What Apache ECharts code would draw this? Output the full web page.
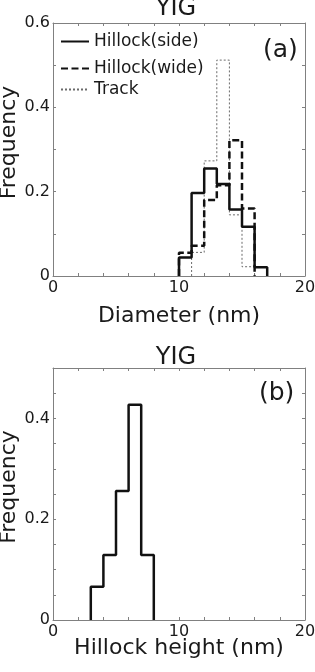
<!DOCTYPE html>
<html>
<head>
<meta charset="utf-8">
<script src="https://cdn.jsdelivr.net/npm/echarts@6/dist/echarts.min.js"></script>
<style>
html,body{margin:0;padding:0;background:#fff;}
#c{width:315px;height:672px;}
</style>
</head>
<body>
<div id="c"></div>
<script>
// ---- Data (a): diameter histograms, bin width 1 nm ----
var sideStarts = [10, 11, 12, 13, 14, 15, 16];
var sideFreq   = [0.044, 0.197, 0.255, 0.218, 0.158, 0.117, 0.021];
var wideStarts = [10, 11, 12, 13, 14, 15];
var wideFreq   = [0.055, 0.072, 0.180, 0.215, 0.322, 0.160];
var trackStarts = [11, 12, 13, 14, 15];
var trackFreq   = [0.056, 0.273, 0.512, 0.145, 0.022];
// ---- Data (b): hillock height histogram ----
var heightStarts = [3, 4, 5, 6, 7];
var heightFreq   = [0.066, 0.129, 0.256, 0.427, 0.129];
var binWidth = 1;
// ---- Tick labels ----
var xTickLabels = [0, 10, 20];
var yTickLabelsA = [0, 0.2, 0.4, 0.6];
var yTickLabelsB = [0, 0.2, 0.4];
var seriesNames = ['Hillock(side)', 'Hillock(wide)', 'Track'];

function stairs(starts, vals) {
  var pts = [[starts[0], 0]];
  for (var i = 0; i < starts.length; i++) pts.push([starts[i], vals[i]]);
  pts.push([starts[starts.length - 1] + binWidth, 0]);
  return pts;
}
function fmt(list) {
  return function (v) {
    for (var i = 0; i < list.length; i++) if (Math.abs(v - list[i]) < 1e-6) return String(list[i]);
    return '';
  };
}

var FONT = 'DejaVu Sans';
var AX = '#808080';
var TXT = '#1a1a1a';

function xAx(gi, show) {
  return {
    type: 'value', gridIndex: gi, min: 0, max: 20, interval: 2,
    position: show ? 'bottom' : 'top',
    axisLine: { show: true, onZero: false, lineStyle: { color: AX, width: 1 } },
    axisTick: { show: true, inside: true, length: 3, lineStyle: { color: AX } },
    axisLabel: { show: show, formatter: fmt(xTickLabels), color: TXT, fontSize: 16, fontFamily: FONT, margin: 4 },
    splitLine: { show: false },
    name: show ? (gi === 0 ? 'Diameter (nm)' : 'Hillock height (nm)') : '',
    nameLocation: 'middle', nameGap: gi === 0 ? 29 : 17, nameMoveOverlap: false,
    nameTextStyle: { color: TXT, fontSize: 22, fontFamily: FONT }
  };
}
function yAx(gi, show, max, labels) {
  return {
    type: 'value', gridIndex: gi, min: 0, max: max, interval: gi === 0 ? 0.1 : 0.05,
    position: show ? 'left' : 'right',
    axisLine: { show: true, onZero: false, lineStyle: { color: AX, width: 1 } },
    axisTick: { show: true, inside: true, length: 3, lineStyle: { color: AX } },
    axisLabel: { show: show, formatter: fmt(labels), color: TXT, fontSize: 16, fontFamily: FONT, margin: 3 },
    splitLine: { show: false },
    name: show ? 'Frequency' : '',
    nameLocation: 'middle', nameGap: 33, nameRotate: 90, nameMoveOverlap: false,
    nameTextStyle: { color: TXT, fontSize: 22, fontFamily: FONT, padding: [0, 0, 0, 14] }
  };
}
function leg(name, top) {
  return { data: [name], left: 60, top: top, padding: 0, itemWidth: 28, itemHeight: 14, itemGap: 0,
    itemStyle: { opacity: 0 },
    textStyle: { color: TXT, fontSize: 17, fontFamily: FONT }, selectedMode: false };
}

var chart = echarts.init(document.getElementById('c'), null, { renderer: 'canvas' });
chart.setOption({
  backgroundColor: '#fff',
  animation: false,
  title: [
    { text: 'YIG', left: 171, textAlign: 'center', top: -8, textStyle: { color: TXT, fontSize: 24, fontWeight: 'normal', fontFamily: FONT } },
    { text: 'YIG', left: 171, textAlign: 'center', top: 341, textStyle: { color: TXT, fontSize: 24, fontWeight: 'normal', fontFamily: FONT } },
    { text: '(a)', left: 258, top: 33, textStyle: { color: TXT, fontSize: 25, fontWeight: 'normal', fontFamily: FONT } },
    { text: '(b)', left: 254, top: 376, textStyle: { color: TXT, fontSize: 25, fontWeight: 'normal', fontFamily: FONT } }
  ],
  legend: [leg(seriesNames[0], 33), leg(seriesNames[1], 60), leg(seriesNames[2], 81)],
  grid: [
    { left: 53, right: 10, top: 23, height: 253, containLabel: false, outerBoundsMode: 'none' },
    { left: 53, right: 10, top: 368, height: 252, containLabel: false, outerBoundsMode: 'none' }
  ],
  xAxis: [xAx(0, true), xAx(0, false), xAx(1, true), xAx(1, false)],
  yAxis: [yAx(0, true, 0.6, yTickLabelsA), yAx(0, false, 0.6, yTickLabelsA), yAx(1, true, 0.5, yTickLabelsB), yAx(1, false, 0.5, yTickLabelsB)],
  series: [
    { name: seriesNames[2], type: 'line', step: 'end', xAxisIndex: 0, yAxisIndex: 0, symbol: 'none',
      data: stairs(trackStarts, trackFreq), lineStyle: { color: '#6a6a6a', width: 1, type: [2, 2] }, itemStyle: { color: '#6a6a6a' }, z: 2 },
    { name: seriesNames[1], type: 'line', step: 'end', xAxisIndex: 0, yAxisIndex: 0, symbol: 'none',
      data: stairs(wideStarts, wideFreq), lineStyle: { color: '#111', width: 2.5, type: [7, 3.5] }, itemStyle: { color: '#111' }, z: 3 },
    { name: seriesNames[0], type: 'line', step: 'end', xAxisIndex: 0, yAxisIndex: 0, symbol: 'none',
      data: stairs(sideStarts, sideFreq), lineStyle: { color: '#111', width: 2.5, type: 'solid' }, itemStyle: { color: '#111' }, z: 4 },
    { name: 'Height', type: 'line', step: 'end', xAxisIndex: 2, yAxisIndex: 2, symbol: 'none',
      data: stairs(heightStarts, heightFreq), lineStyle: { color: '#111', width: 2.5 }, itemStyle: { color: '#111' }, z: 4 }
  ]
});
</script>
</body>
</html>
